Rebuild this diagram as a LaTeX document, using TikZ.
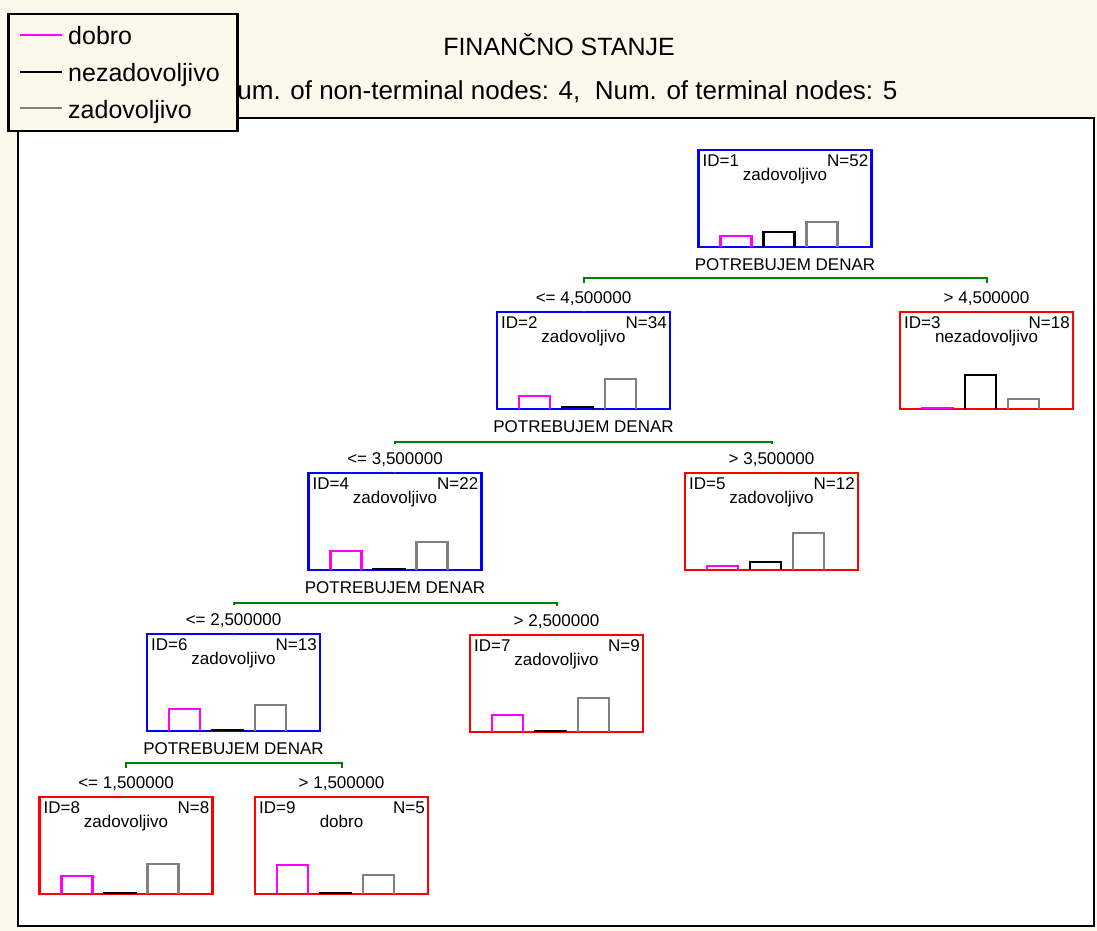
\documentclass[tikz,border=0pt]{standalone}
\usepackage{fontspec}
\setmainfont{Liberation Sans}
\usetikzlibrary{calc,positioning}

\definecolor{paper}{RGB}{253,248,236}
\definecolor{splitgreen}{RGB}{0,128,0}
\definecolor{bargray}{RGB}{128,128,128}
\definecolor{barpink}{RGB}{255,0,255}
\definecolor{boxblue}{RGB}{0,0,255}
\definecolor{boxred}{RGB}{255,0,0}

\begin{document}
\begin{tikzpicture}[x=1pt,y=-1pt]
	\tikzstyle{leafbox}=[draw=boxred,line width=2.2pt,minimum width=173pt,minimum height=97pt,inner sep=0pt,outer sep=0pt]
	\tikzstyle{splitbox}=[leafbox,draw=boxblue]
	\tikzstyle{txt}=[font=\fontsize{17}{20}\selectfont,inner sep=0pt]
	\tikzstyle{cond}=[txt,fill=white,inner xsep=9pt,minimum height=28pt,text height=12pt,text depth=0pt,anchor=south]
	\tikzstyle{split}=[splitgreen,line width=2pt]
	\tikzstyle{bar}=[line width=2.2pt]

	\newcommand{\Bars}[4]{
		\draw [bar,barpink] ($(#1.south west)+(22,0)$) -- ++(0,-#2) -- ++(31,0) -- ++(0,#2);
		\draw [bar,black] ($(#1.south west)+(65,0)$) -- ++(0,-#3) -- ++(31,0) -- ++(0,#3);
		\draw [bar,bargray] ($(#1.south west)+(108,0)$) -- ++(0,-#4) -- ++(31,0) -- ++(0,#4);
	}
	\newcommand{\BoxText}[4]{
		\node (#1id) [txt,anchor=base west] at ($(#1.north west)+(4,16)$) {ID=#2};
		\node (#1cnt) [txt,anchor=base east] at ($(#1.north east)+(-3,16)$) {N=#3};
		\node (#1cls) [txt,anchor=base] at ($(#1.north)+(0,30)$) {#4};
	}

	\useasboundingbox (0,0) rectangle (1097,931);
	\fill [paper] (0,0) rectangle (1097,931);
	\draw [line width=2.5pt,fill=white] (18,118) rectangle (1094,926);

	\node (title) [font=\fontsize{25}{30}\selectfont,anchor=base] at (559,56) {FINANČNO STANJE};
	\node (subtitle) [font=\fontsize{26}{31}\selectfont,anchor=base] at (558,100) {Num. of non-terminal nodes: 4,\ \ Num. of terminal nodes: 5};

	% legend
	\node (legend) [draw,line width=2.5pt,fill=paper,minimum width=229pt,minimum height=117pt,anchor=north west] at (7,13) {};
	\draw [line width=2pt,barpink] ($(legend.north west)+(13,22)$) -- ++(42,0) coordinate (l1);
	\draw [line width=2pt,black] ($(legend.north west)+(13,59)$) -- ++(42,0) coordinate (l2);
	\draw [line width=2pt,bargray] ($(legend.north west)+(13,95)$) -- ++(42,0) coordinate (l3);
	\node (leg1) [font=\fontsize{25}{30}\selectfont,anchor=base west,inner sep=0pt] at ($(l1)+(6,10)$) {dobro};
	\node (leg2) [font=\fontsize{25}{30}\selectfont,anchor=base west,inner sep=0pt] at ($(l2)+(6,10)$) {nezadovoljivo};
	\node (leg3) [font=\fontsize{25}{30}\selectfont,anchor=base west,inner sep=0pt] at ($(l3)+(6,10)$) {zadovoljivo};

	% tree
	\node (n1) [splitbox,anchor=north] at (785,150) {};
	\node (n2) [splitbox,anchor=north] at (583.5,312) {};
	\node (n3) [leafbox,anchor=north] at (986.5,312) {};
	\node (n4) [splitbox,anchor=north] at (395,473) {};
	\node (n5) [leafbox,anchor=north] at (771.5,473) {};
	\node (n6) [splitbox,anchor=north] at (233.5,634) {};
	\node (n7) [leafbox,anchor=north] at (556.5,635) {};
	\node (n8) [leafbox,anchor=north] at (126,797) {};
	\node (n9) [leafbox,anchor=north] at (341.5,797) {};

	\draw [split] (n2.north) |- ([yshift=-31pt]n1.south) -| (n3.north);
	\draw [split] (n4.north) |- ([yshift=-33pt]n2.south) -| (n5.north);
	\draw [split] (n6.north) |- ([yshift=-33pt]n4.south) -| (n7.north);
	\draw [split] (n8.north) |- ([yshift=-32pt]n6.south) -| (n9.north);

	\node (v1) [txt,anchor=base] at ($(n1.south)+(0,23)$) {POTREBUJEM DENAR};
	\node (v2) [txt,anchor=base] at ($(n2.south)+(0,23)$) {POTREBUJEM DENAR};
	\node (v4) [txt,anchor=base] at ($(n4.south)+(0,23)$) {POTREBUJEM DENAR};
	\node (v6) [txt,anchor=base] at ($(n6.south)+(0,23)$) {POTREBUJEM DENAR};

	\node (c2) [cond] at ($(n2.north)+(0,-0.6)$) {<= 4,500000};
	\node (c3) [cond] at ($(n3.north)+(0,-0.6)$) {> 4,500000};
	\node (c4) [cond] at ($(n4.north)+(0,-0.6)$) {<= 3,500000};
	\node (c5) [cond] at ($(n5.north)+(0,-0.6)$) {> 3,500000};
	\node (c6) [cond] at ($(n6.north)+(0,-0.6)$) {<= 2,500000};
	\node (c7) [cond] at ($(n7.north)+(0,-0.6)$) {> 2,500000};
	\node (c8) [cond] at ($(n8.north)+(0,-0.6)$) {<= 1,500000};
	\node (c9) [cond] at ($(n9.north)+(0,-0.6)$) {> 1,500000};

	\BoxText{n1}{1}{52}{zadovoljivo}
	\BoxText{n2}{2}{34}{zadovoljivo}
	\BoxText{n3}{3}{18}{nezadovoljivo}
	\BoxText{n4}{4}{22}{zadovoljivo}
	\BoxText{n5}{5}{12}{zadovoljivo}
	\BoxText{n6}{6}{13}{zadovoljivo}
	\BoxText{n7}{7}{9}{zadovoljivo}
	\BoxText{n8}{8}{8}{zadovoljivo}
	\BoxText{n9}{9}{5}{dobro}

	\Bars{n1}{11}{15}{25}
	\Bars{n2}{13}{2}{30}
	\Bars{n3}{1}{34}{10}
	\Bars{n4}{19}{1}{28}
	\Bars{n5}{4}{8}{37}
	\Bars{n6}{22}{1}{26}
	\Bars{n7}{17}{1}{34}
	\Bars{n8}{18}{1}{30}
	\Bars{n9}{29}{1}{19}
\end{tikzpicture}
\end{document}
